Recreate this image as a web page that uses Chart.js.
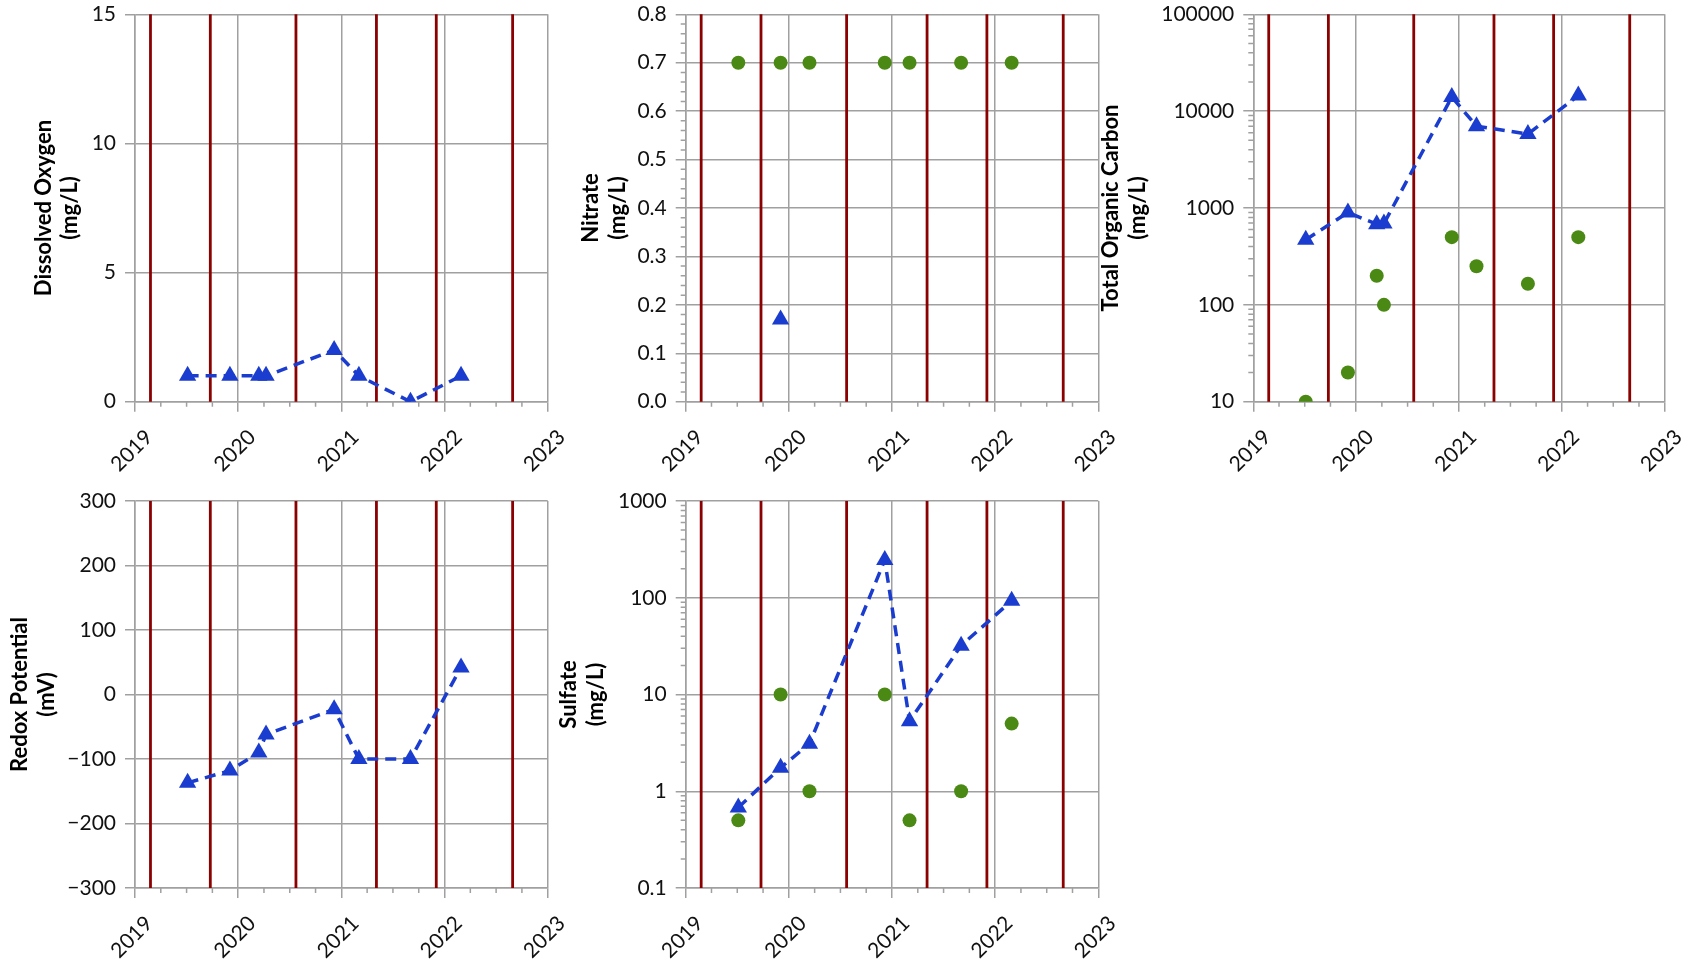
<!DOCTYPE html>
<html>
<head>
<meta charset="utf-8">
<title>Groundwater monitoring parameters</title>
<script src="https://cdn.jsdelivr.net/npm/chart.js@4.4.1/dist/chart.umd.min.js"></script>
<style>
  html, body { margin: 0; padding: 0; background: #ffffff; width: 1694px; height: 959px; overflow: hidden; }
  canvas { position: absolute; }
</style>
</head>
<body>
<canvas id="pDO"></canvas>
<canvas id="pNO3"></canvas>
<canvas id="pTOC"></canvas>
<canvas id="pORP"></canvas>
<canvas id="pSO4"></canvas>
<script>
// Sampling dates in decimal years, shared by every panel
const sampleDates = [2019.51, 2019.92, 2020.20, 2020.27, 2020.93, 2021.17, 2021.67, 2022.16];
// Dates of the vertical event markers
const eventDates = [2019.15, 2019.73, 2020.56, 2021.34, 2021.92, 2022.66];

// X axis ticks
const yearTicks = [2019, 2020, 2021, 2022, 2023];
const yearLabels = ['2019', '2020', '2021', '2022', '2023'];

// Series values aligned with sampleDates (null = not sampled)
const oxygenMain    = [1, 1, 1, 1, 2, 1, 0, 1];
const nitrateMain   = [null, 0.17, null, null, null, null, null, null];
const nitrateSecond = [0.7, 0.7, 0.7, null, 0.7, 0.7, 0.7, 0.7];
const carbonMain    = [470, 900, 680, 690, 14000, 7000, 5800, 14500];
const carbonSecond  = [10, 20, 200, 100, 500, 250, 165, 500];
const redoxMain     = [-137, -118, -90, -62, -23, -100, -100, 42];
const sulfateMain   = [0.68, 1.75, 3.1, null, 245, 5.3, 32, 93];
const sulfateSecond = [0.5, 10, 1, null, 10, 0.5, 1, 5];

// Y axis ticks and their labels
const oxygenTicks = [0, 5, 10, 15];
const oxygenTickLabels = ['0', '5', '10', '15'];
const nitrateTicks = [0, 0.1, 0.2, 0.3, 0.4, 0.5, 0.6, 0.7, 0.8];
const nitrateTickLabels = ['0.0', '0.1', '0.2', '0.3', '0.4', '0.5', '0.6', '0.7', '0.8'];
const carbonTicks = [10, 100, 1000, 10000, 100000];
const carbonTickLabels = ['10', '100', '1000', '10000', '100000'];
const redoxTicks = [-300, -200, -100, 0, 100, 200, 300];
const redoxTickLabels = ['\u2212300', '\u2212200', '\u2212100', '0', '100', '200', '300'];
const sulfateTicks = [0.1, 1, 10, 100, 1000];
const sulfateTickLabels = ['0.1', '1', '10', '100', '1000'];

const BLUE = '#1b3dcf';
const GREEN = '#4a8913';
const RED = '#8b0000';
const GRID = '#a0a0a0';

Chart.defaults.font.family = "Lato, 'Open Sans', 'DejaVu Sans', sans-serif";
Chart.defaults.color = '#111111';

// Minor tick positions
function linearMinor(ticks, step) {
  const out = [];
  for (let i = 0; i < ticks.length - 1; i++) {
    for (let k = 1; k * step < ticks[i + 1] - ticks[i] - 1e-9; k++) out.push(ticks[i] + k * step);
  }
  return out;
}
function logMinor(ticks) {
  const out = [];
  for (let i = 0; i < ticks.length - 1; i++) {
    for (let m = 2; m <= 9; m++) out.push(ticks[i] * m);
  }
  return out;
}

// Vertical event lines across the plot area
const eventLinesPlugin = {
  id: 'eventLines',
  beforeDatasetsDraw(chart) {
    const { ctx, chartArea: a, scales: { x } } = chart;
    ctx.save();
    ctx.strokeStyle = RED;
    ctx.lineWidth = 2.8;
    for (const d of eventDates) {
      const px = x.getPixelForValue(d);
      ctx.beginPath();
      ctx.moveTo(px, a.top);
      ctx.lineTo(px, a.bottom);
      ctx.stroke();
    }
    ctx.restore();
  }
};

// Short minor tick marks outside the axes
const minorTicksPlugin = {
  id: 'minorTicks',
  beforeDatasetsDraw(chart, args, opts) {
    const { ctx, chartArea: a, scales: { x, y } } = chart;
    ctx.save();
    ctx.strokeStyle = GRID;
    ctx.lineWidth = 1.5;
    ctx.beginPath();
    for (let i = 0; i < yearTicks.length - 1; i++) {
      for (const q of [0.25, 0.5, 0.75]) {
        const px = x.getPixelForValue(yearTicks[i] + q);
        ctx.moveTo(px, a.bottom);
        ctx.lineTo(px, a.bottom + 5);
      }
    }
    for (const v of (opts.y || [])) {
      const py = y.getPixelForValue(v);
      ctx.moveTo(a.left - 5, py);
      ctx.lineTo(a.left, py);
    }
    ctx.stroke();
    ctx.restore();
  }
};

function pairs(values) {
  return sampleDates.map((x, i) => ({ x, y: values[i] })).filter(p => p.y !== null);
}
function triangleSeries(values) {
  return {
    data: pairs(values), showLine: true,
    borderColor: BLUE, backgroundColor: BLUE, borderWidth: 3.5, borderDash: [11, 7],
    pointStyle: 'triangle', pointRadius: 10, pointHoverRadius: 10, pointBorderWidth: 0
  };
}
function dotSeries(values) {
  return {
    data: pairs(values), showLine: false,
    borderColor: GREEN, backgroundColor: GREEN,
    pointStyle: 'circle', pointRadius: 7, pointHoverRadius: 7, pointBorderWidth: 0
  };
}

function makePanel(p) {
  const cv = document.getElementById(p.id);
  cv.width = p.w; cv.height = p.h;
  cv.style.left = p.left + 'px';
  cv.style.top = p.top + 'px';
  return new Chart(cv, {
    type: 'scatter',
    data: { datasets: p.datasets },
    options: {
      responsive: false, animation: false, devicePixelRatio: 1,
      events: [],
      layout: { padding: { top: p.padTop, right: p.padRight, left: 0, bottom: 0 } },
      plugins: { legend: { display: false }, tooltip: { enabled: false }, minorTicks: { y: p.minorY } },
      scales: {
        x: {
          type: 'linear', min: 2019, max: 2023,
          afterBuildTicks: s => { s.ticks = yearTicks.map(v => ({ value: v })); },
          afterFit: s => { s.height = p.xHeight; s.paddingLeft = 0; s.paddingRight = 0; },
          ticks: {
            autoSkip: false, minRotation: 45, maxRotation: 45, padding: 13, labelOffset: 14,
            font: { size: 21 }, color: '#111111',
            callback: v => yearLabels[yearTicks.indexOf(v)]
          },
          grid: { color: GRID, lineWidth: 1.5, tickLength: 10 },
          border: { color: GRID, width: 1.5 }
        },
        y: {
          type: p.yType, min: p.yTicks[0], max: p.yTicks[p.yTicks.length - 1],
          afterBuildTicks: s => { s.ticks = p.yTicks.map(v => ({ value: v })); },
          afterFit: s => { s.width = p.yWidth; s.paddingTop = 0; s.paddingBottom = 0; },
          ticks: {
            autoSkip: false, padding: 9, font: { size: 21 }, color: '#111111',
            callback: v => p.yLabels[p.yTicks.indexOf(v)]
          },
          title: {
            display: true, text: p.title, color: '#000000',
            font: { size: 22, weight: 'bold', lineHeight: 1.2 },
            padding: { top: p.titlePad, bottom: 0 }
          },
          grid: { color: GRID, lineWidth: 1.5, tickLength: 10 },
          border: { color: GRID, width: 1.5 }
        }
      }
    },
    plugins: [eventLinesPlugin, minorTicksPlugin]
  });
}

const TOP_ROW = { top: 0, h: 500, padTop: 14.3, xHeight: 98.3 };
const BOTTOM_ROW = { top: 470, h: 489, padTop: 31, xHeight: 71 };

makePanel(Object.assign({
  id: 'pDO', left: 0, w: 568, padRight: 20.3, yWidth: 135, titlePad: 30.4,
  yType: 'linear', yTicks: oxygenTicks, yLabels: oxygenTickLabels, minorY: [],
  title: ['Dissolved Oxygen', '(mg/L)'],
  datasets: [triangleSeries(oxygenMain)]
}, TOP_ROW));

makePanel(Object.assign({
  id: 'pNO3', left: 550, w: 569, padRight: 20.7, yWidth: 135.7, titlePad: 28.2,
  yType: 'linear', yTicks: nitrateTicks, yLabels: nitrateTickLabels, minorY: linearMinor(nitrateTicks, 0.02),
  title: ['Nitrate', '(mg/L)'],
  datasets: [triangleSeries(nitrateMain), dotSeries(nitrateSecond)]
}, TOP_ROW));

makePanel(Object.assign({
  id: 'pTOC', left: 1090, w: 604, padRight: 29.3, yWidth: 163.3, titlePad: 8.2,
  yType: 'logarithmic', yTicks: carbonTicks, yLabels: carbonTickLabels, minorY: logMinor(carbonTicks),
  title: ['Total Organic Carbon', '(mg/L)'],
  datasets: [triangleSeries(carbonMain), dotSeries(carbonSecond)]
}, TOP_ROW));

makePanel(Object.assign({
  id: 'pORP', left: 0, w: 568, padRight: 20.3, yWidth: 135, titlePad: 7.2,
  yType: 'linear', yTicks: redoxTicks, yLabels: redoxTickLabels, minorY: [],
  title: ['Redox Potential', '(mV)'],
  datasets: [triangleSeries(redoxMain)]
}, BOTTOM_ROW));

makePanel(Object.assign({
  id: 'pSO4', left: 550, w: 569, padRight: 20.7, yWidth: 135.7, titlePad: 6.1,
  yType: 'logarithmic', yTicks: sulfateTicks, yLabels: sulfateTickLabels, minorY: logMinor(sulfateTicks),
  title: ['Sulfate', '(mg/L)'],
  datasets: [triangleSeries(sulfateMain), dotSeries(sulfateSecond)]
}, BOTTOM_ROW));
</script>
</body>
</html>
